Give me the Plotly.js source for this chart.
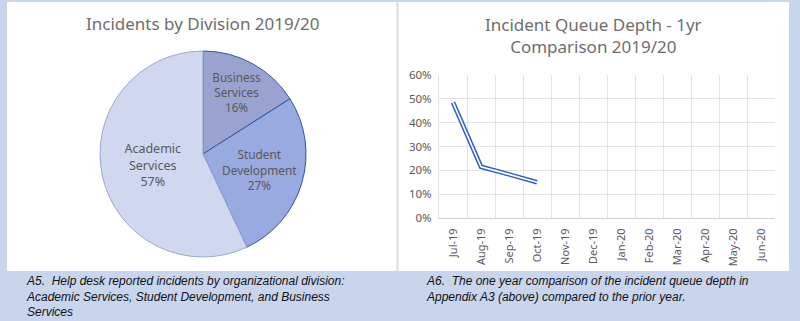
<!DOCTYPE html>
<html>
<head>
<meta charset="utf-8">
<script src="https://cdn.plot.ly/plotly-3.0.1.min.js"></script>
<style>
html,body{margin:0;padding:0;background:#c8d5ed;}
#chart{width:800px;height:321px;}
</style>
</head>
<body>
<div id="chart"></div>
<script>
// Pie data
var divisions = ["Business<br>Services", "Student<br>Development", "Academic<br>Services"];
var divisionShare = [16, 27, 57];
var divisionColors = ["#9aa3cf", "#98aadf", "#d1d7ee"];
var divisionBorders = ["#2f55a4", "#2f55a4", "#9aa8d8"];

// Line data
var months = ["Jul-19","Aug-19","Sep-19","Oct-19","Nov-19","Dec-19","Jan-20","Feb-20","Mar-20","Apr-20","May-20","Jun-20"];
var queueDepth = [0.485, 0.215, 0.183, 0.150, null, null, null, null, null, null, null, null];

var gray = "#595959";
var titleFont = {family: "Noto Sans, Open Sans, sans-serif", size: 17, color: "#6e6e6e"};
var capFont = {family: "Liberation Sans, Arial, sans-serif", size: 12, color: "#111"};

var pie = {
  type: "pie",
  labels: divisions,
  values: divisionShare,
  sort: false,
  direction: "clockwise",
  rotation: 0,
  marker: {colors: divisionColors, line: {color: divisionBorders, width: 1}},
  texttemplate: "%{label}<br>%{value}%",
  textposition: "inside",
  insidetextorientation: "horizontal",
  textfont: {family: "Noto Sans, Open Sans, sans-serif", size: 12.5, color: gray},
  hoverinfo: "none",
  showlegend: false,
  domain: {x: [100/800, 306/800], y: [1 - 257/321, 1 - 51/321]}
};

var lineOuter = {
  type: "scatter", mode: "lines", x: months, y: queueDepth,
  line: {color: "#2d5cc9", width: 4.6}, hoverinfo: "none", showlegend: false,
  xaxis: "x", yaxis: "y"
};
var lineInner = {
  type: "scatter", mode: "lines", x: months, y: queueDepth,
  line: {color: "#ffffff", width: 1.6}, hoverinfo: "none", showlegend: false,
  xaxis: "x", yaxis: "y"
};

var layout = {
  width: 800, height: 321,
  margin: {l: 0, r: 0, t: 0, b: 0},
  paper_bgcolor: "#c8d5ed",
  plot_bgcolor: "rgba(0,0,0,0)",
  showlegend: false,
  xaxis: {
    domain: [439/800, 775/800],
    type: "category",
    range: [-0.5, 11.5],
    tickson: "boundaries",
    ticks: "",
    ticklabelstandoff: 5,
    showgrid: true, gridcolor: "#e3e3e3", gridwidth: 1,
    showline: true, linecolor: "#d0d0d0", linewidth: 1,
    tickangle: -90,
    tickfont: {family: "Noto Sans, Open Sans, sans-serif", size: 11, color: gray},
    fixedrange: true
  },
  yaxis: {
    domain: [1 - 218/321, 1 - 75/321],
    range: [0, 0.6],
    dtick: 0.1,
    tickformat: ".0%",
    showgrid: true, gridcolor: "#e3e3e3", gridwidth: 1,
    zeroline: false,
    showline: true, linecolor: "#e3e3e3",
    ticks: "",
    ticklabelstandoff: 4,
    tickfont: {family: "Noto Sans, Open Sans, sans-serif", size: 11.5, color: gray},
    fixedrange: true
  },
  shapes: [
    {type: "rect", xref: "paper", yref: "paper", x0: 7/800, x1: 789/800, y0: 1 - 271/321, y1: 1 - 2/321, fillcolor: "#ffffff", line: {width: 0}, layer: "below"},
    {type: "rect", xref: "paper", yref: "paper", x0: 396.5/800, x1: 398.5/800, y0: 1 - 271/321, y1: 1 - 2/321, fillcolor: "#dcdcdc", line: {width: 0}, layer: "below"}
  ],
  annotations: [
    {xref: "paper", yref: "paper", x: 203/800, y: 1 - 23/321, xanchor: "center", yanchor: "middle", showarrow: false,
     text: "Incidents by Division 2019/20", font: titleFont},
    {xref: "paper", yref: "paper", x: 593/800, y: 1 - 35/321, xanchor: "center", yanchor: "middle", showarrow: false,
     text: "Incident Queue Depth - 1yr<br>Comparison 2019/20", font: titleFont},
    {xref: "paper", yref: "paper", x: 24/800, y: 1 - 272/321, xanchor: "left", yanchor: "top", align: "left", showarrow: false,
     text: "<i>A5.  Help desk reported incidents by organizational division:<br>Academic Services, Student Development, and Business<br>Services</i>", font: capFont},
    {xref: "paper", yref: "paper", x: 424/800, y: 1 - 272/321, xanchor: "left", yanchor: "top", align: "left", showarrow: false,
     text: "<i>A6.  The one year comparison of the incident queue depth in<br>Appendix A3 (above) compared to the prior year.</i>", font: capFont}
  ]
};

Plotly.newPlot("chart", [pie, lineOuter, lineInner], layout, {displayModeBar: false, staticPlot: true});
</script>
</body>
</html>
